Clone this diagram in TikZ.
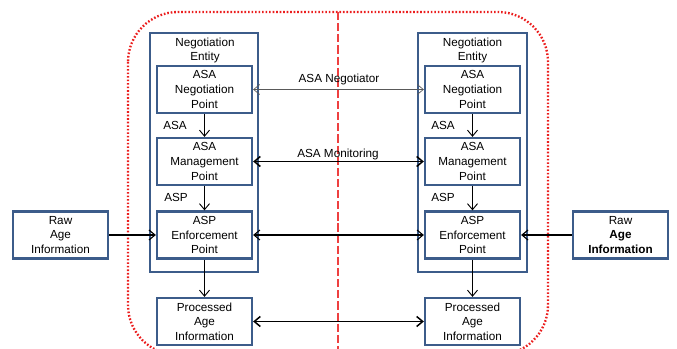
\documentclass[tikz,border=0pt]{standalone}
\usepackage{fontspec}
\setmainfont{Liberation Sans}
\usetikzlibrary{arrows.meta}
\definecolor{boxblue}{RGB}{60,92,138}
\definecolor{linered}{RGB}{235,30,30}

\begin{document}
\begin{tikzpicture}[x=0.03cm, y=-0.03cm, >={Straight Barb[length=1.8mm,width=3mm]}, font=\fontsize{10}{12.5}\selectfont]
	\tikzset{pbox/.style={draw=boxblue, line width=1.9pt, minimum width=2.85cm, minimum height=1.41cm, inner sep=0pt, align=center}}
	\tikzset{ebox/.style={draw=boxblue, line width=1.9pt, minimum width=3.25cm, minimum height=7.17cm, inner sep=0pt}}
	\clip (0,0) rectangle (677,349);
	\draw[linered, line width=2pt, dash pattern=on 1.4pt off 1.6pt, rounded corners=1.5cm] (128,12) rectangle (548,355);
	\draw[linered!85, line width=0.9pt, dash pattern=on 7pt off 2.5pt] (338,12) -- (338,349);
	\node[ebox] (ent1) at (204,152.5) {};
	\node[ebox] (ent2) at (472.5,152.5) {};
	\node[align=center] (elbl1) at (205,50.5) {Negotiation\\Entity};
	\node[align=center] (elbl2) at (472.5,50.5) {Negotiation\\Entity};
	\node[pbox] (neg1) at (204.5,89.5) {ASA\\Negotiation\\Point};
	\node[pbox] (neg2) at (472.5,89.5) {ASA\\Negotiation\\Point};
	\node[pbox] (mgt1) at (204.5,161.5) {ASA\\Management\\Point};
	\node[pbox] (mgt2) at (472.5,161.5) {ASA\\Management\\Point};
	\node[pbox] (enf1) at (204.5,235) {ASP\\Enforcement\\Point};
	\node[pbox] (enf2) at (472.5,235) {ASP\\Enforcement\\Point};
	\node[pbox] (proc1) at (204.5,321.5) {Processed\\Age\\Information};
	\node[pbox] (proc2) at (472.5,321.5) {Processed\\Age\\Information};
	\node[pbox] (raw1) at (60.5,235) {Raw\\Age\\Information};
	\node[pbox] (raw2) at (620.5,235) {Raw\\\textbf{Age}\\\textbf{Information}};
	\node (asa1) at (175,125) {ASA};
	\node (asa2) at (443,125) {ASA};
	\node (asp1) at (176,197) {ASP};
	\node (asp2) at (443,197) {ASP};
	\node (nlbl) at (339,79) {ASA Negotiator};
	\node (mlbl) at (338,154) {ASA Monitoring};
	\draw[->, line width=0.8pt] (neg1) -- (mgt1);
	\draw[->, line width=0.8pt] (mgt1) -- (enf1);
	\draw[->, line width=0.8pt] (enf1) -- (proc1);
	\draw[->, line width=0.8pt] (neg2) -- (mgt2);
	\draw[->, line width=0.8pt] (mgt2) -- (enf2);
	\draw[->, line width=0.8pt] (enf2) -- (proc2);
	\draw[<->, gray!70!black, line width=0.6pt] (neg1) -- (neg2);
	\draw[<->, line width=1.3pt] (mgt1) -- (mgt2);
	\draw[<->, line width=0.9pt] (enf1) -- (enf2);
	\draw[<->, line width=1.3pt] (proc1) -- (proc2);
	\draw[->, line width=1pt] (raw1) -- (enf1);
	\draw[->, line width=1pt] (raw2) -- (enf2);
\end{tikzpicture}
\end{document}
